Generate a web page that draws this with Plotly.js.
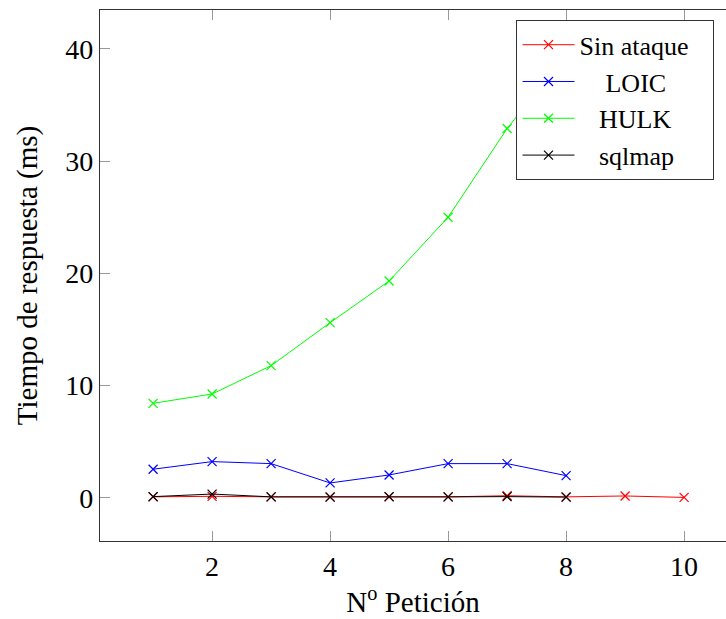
<!DOCTYPE html>
<html>
<head>
<meta charset="utf-8">
<script src="https://cdn.plot.ly/plotly-3.0.1.min.js"></script>
<style>html,body{margin:0;padding:0;background:#fff;}#chart{width:726px;height:619px;}</style>
</head>
<body>
<div id="chart"></div>
<script>
const peticiones = [1, 2, 3, 4, 5, 6, 7, 8, 9, 10];
const sinAtaque = [0.10, 0.15, 0.10, 0.10, 0.10, 0.10, 0.20, 0.10, 0.18, 0.05];
const loic = [2.56, 3.24, 3.06, 1.34, 2.05, 3.06, 3.06, 1.99];
const hulk = [8.43, 9.26, 11.78, 15.61, 19.32, 25.0, 32.9, 39.5];
const sqlmap = [0.12, 0.35, 0.10, 0.08, 0.12, 0.10, 0.12, 0.08];
const seriesNames = ['Sin ataque', 'LOIC', 'HULK', 'sqlmap'];
const namePad = [0, 4, 3, 3];
const xTicks = [2, 4, 6, 8, 10];
const yTicks = [0, 10, 20, 30, 40];

const FONT = 'Liberation Serif';

function tr(y, i, color) {
  return {
    x: peticiones.slice(0, y.length), y: y,
    name: '\u00a0'.repeat(namePad[i]) + seriesNames[i] + '\u00a0\u00a0\u00a0',
    type: 'scatter', mode: 'lines+markers',
    line: {color: color, width: 1},
    marker: {symbol: 'x-thin-open', size: 9, line: {color: color, width: 1.2}, color: color}
  };
}
const data = [
  tr(sinAtaque, 0, '#ff0000'),
  tr(loic, 1, '#0000ff'),
  tr(hulk, 2, '#00ff00'),
  tr(sqlmap, 3, '#000000')
];
const layout = {
  width: 726, height: 619,
  margin: {l: 100, r: 0, t: 10, b: 78},
  paper_bgcolor: '#fff', plot_bgcolor: '#fff',
  font: {family: FONT, size: 28, color: '#000'},
  showlegend: true,
  legend: {
    x: 0.665, y: 0.981, xanchor: 'left', yanchor: 'top',
    bgcolor: '#fff', bordercolor: '#333', borderwidth: 1.2,
    font: {family: FONT, size: 26, color: '#000'},
    tracegroupgap: 0, itemwidth: 52
  },
  xaxis: {
    range: [0.1, 10.71], tickvals: xTicks, ticktext: xTicks.map(String),
    ticks: 'inside', ticklen: 10, tickcolor: '#999', tickwidth: 1,
    showline: true, linecolor: '#333', linewidth: 1.2, mirror: 'ticks',
    showgrid: false, zeroline: false,
    tickfont: {family: FONT, size: 28},
    title: {text: 'N<sup>o</sup> Petición', font: {family: FONT, size: 29}, standoff: 8}
  },
  yaxis: {
    range: [-3.83, 43.45], tickvals: yTicks, ticktext: yTicks.map(String),
    ticks: 'inside', ticklen: 10, tickcolor: '#999', tickwidth: 1,
    showline: true, linecolor: '#333', linewidth: 1.2, mirror: false,
    showgrid: false, zeroline: false,
    tickfont: {family: FONT, size: 28},
    title: {text: 'Tiempo de respuesta (ms)', font: {family: FONT, size: 29}, standoff: 19}
  }
};
Plotly.newPlot('chart', data, layout, {displayModeBar: false, staticPlot: true});
</script>
</body>
</html>
